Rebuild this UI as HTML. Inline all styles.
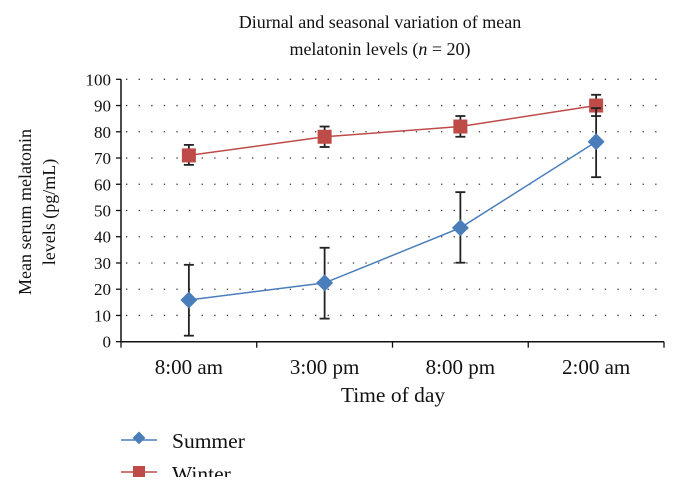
<!DOCTYPE html>
<html><head><meta charset="utf-8"><style>
html,body{margin:0;padding:0;background:#fff;}
svg{display:block;font-family:"Liberation Serif",serif;}
</style></head><body>
<svg id="chart" width="679" height="490" viewBox="0 0 679 490">
<text x="380" y="28" text-anchor="middle" font-size="18" fill="#111">Diurnal and seasonal variation of mean</text>
<text x="380" y="55" text-anchor="middle" font-size="18" fill="#111">melatonin levels (<tspan font-style="italic">n</tspan> = 20)</text>
<g id="grid"></g><g id="axes"></g><g id="series"></g>
<text x="393" y="402" text-anchor="middle" font-size="21.5" fill="#111">Time of day</text>
<text transform="translate(31,212) rotate(-90)" text-anchor="middle" font-size="18" fill="#111">Mean serum melatonin</text>
<text transform="translate(55,212) rotate(-90)" text-anchor="middle" font-size="18" fill="#111">levels (pg/mL)</text>
<g>
<line x1="121" y1="440" x2="157" y2="440" stroke="#4a7ebb" stroke-width="1.5"/>
<rect x="133" y="434" width="9" height="9" fill="#4a7ebb" transform="rotate(45 139 440)"/>
<text x="172" y="448" font-size="21.5" fill="#111">Summer</text></g>
<g>
<line x1="121" y1="472" x2="157" y2="472" stroke="#be4b48" stroke-width="1.5"/>
<rect x="133" y="466" width="12" height="12" fill="#be4b48"/>
<text x="172" y="481" font-size="21.5" fill="#111">Winter</text></g>
<rect x="0" y="477" width="679" height="13" fill="#fff"/>
</svg>
<script>
const categories=["8:00 am","3:00 pm","8:00 pm","2:00 am"];
const yTicks=[0,10,20,30,40,50,60,70,80,90,100];
const summer=[15.9,22.4,43.4,76.2];
const summerLow=[2.3,8.8,30.1,62.7];
const summerHigh=[29.3,35.8,57,89];
const winter=[71,78.1,82,90];
const winterLow=[67.4,74.2,78.1,86];
const winterHigh=[75,82,86,94.1];

const NS="http://www.w3.org/2000/svg";
const L=121,R=664,T=79.3,B=341.7;
const y=v=>B-(v/100)*(B-T);
const cw=(R-L)/categories.length;
const x=i=>L+cw*(i+0.5);
function mk(tag,attrs,parent){const e=document.createElementNS(NS,tag);for(const k in attrs)e.setAttribute(k,attrs[k]);parent.appendChild(e);return e;}
const grid=document.getElementById('grid'),axes=document.getElementById('axes'),ser=document.getElementById('series');
yTicks.forEach(t=>{
  if(t>0){const g=mk('line',{x1:L+5,x2:R,y1:y(t),y2:y(t),stroke:'#333','stroke-width':1.3,'stroke-dasharray':'1.3 11.3'},grid);
  
  }
  const tk=mk('line',{x1:L-5,x2:L,y1:y(t),y2:y(t),stroke:'#111','stroke-width':1.3},axes);
  
  
  const lb=mk('text',{x:L-10,y:y(t)+6,'text-anchor':'end','font-size':17,fill:'#111'},axes);
  lb.textContent=t;
  
  
});
const ya=mk('line',{x1:L,x2:L,y1:T,y2:B,stroke:'#111','stroke-width':1.5},axes);


const xa=mk('line',{x1:L,x2:R,y1:B,y2:B,stroke:'#111','stroke-width':1.5},axes);


for(let i=0;i<=categories.length;i++){
  const tk=mk('line',{x1:L+cw*i,x2:L+cw*i,y1:B,y2:B+6,stroke:'#111','stroke-width':1.3},axes);
  
  
}
categories.forEach((c,i)=>{
  const lb=mk('text',{x:x(i),y:374,'text-anchor':'middle','font-size':21,fill:'#111'},axes);
  lb.textContent=c;
  
  
});
function series(vals,lo,hi,color,shape,name){
  const pts=vals.map((v,i)=>x(i)+','+y(v)).join(' ');
  const pl=mk('polyline',{points:pts,fill:'none',stroke:color,'stroke-width':1.5},ser);
  
  
  vals.forEach((v,i)=>{
    const g=mk('g',{},ser);
    
    
    mk('line',{x1:x(i),x2:x(i),y1:y(lo[i]),y2:y(hi[i]),stroke:'#222','stroke-width':1.8},g);
    mk('line',{x1:x(i)-5,x2:x(i)+5,y1:y(lo[i]),y2:y(lo[i]),stroke:'#222','stroke-width':1.8},g);
    mk('line',{x1:x(i)-5,x2:x(i)+5,y1:y(hi[i]),y2:y(hi[i]),stroke:'#222','stroke-width':1.8},g);
  });
  vals.forEach((v,i)=>{
    let m;
    if(shape==='d') m=mk('rect',{x:x(i)-6,y:y(v)-6,width:12,height:12,fill:color,transform:`rotate(45 ${x(i)} ${y(v)})`},ser);
    else m=mk('rect',{x:x(i)-7,y:y(v)-7,width:14,height:14,fill:color},ser);
    
    
  });
}
series(winter,winterLow,winterHigh,'#be4b48','s','winter');
series(summer,summerLow,summerHigh,'#4a7ebb','d','summer');
</script>
</body></html>
